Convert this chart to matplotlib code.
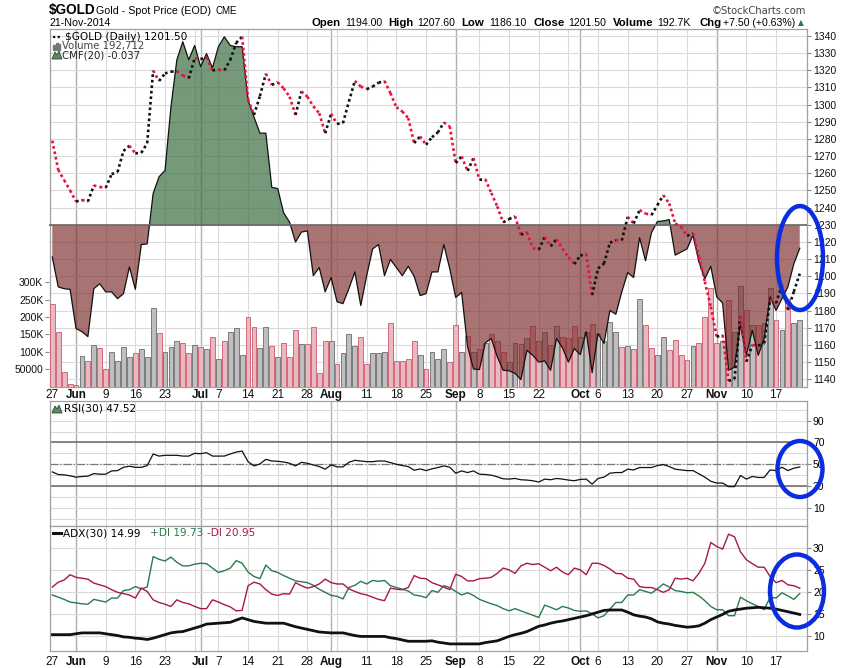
import matplotlib
matplotlib.use('Agg')
import matplotlib.pyplot as plt
from matplotlib.collections import LineCollection
from matplotlib.lines import Line2D
from matplotlib.patches import Ellipse, Polygon, Rectangle
import numpy as np
import pandas as pd

plt.rcParams['font.family'] = ['Liberation Sans', 'DejaVu Sans']

# trading days 27-May-2014 .. 21-Nov-2014 (market closed Jul 4 and Sep 1)
dates = pd.bdate_range('2014-05-27', '2014-11-21')
dates = dates[~dates.isin(pd.to_datetime(['2014-07-04', '2014-09-01']))]

close = [1279.0, 1262.0, 1256.0, 1250.0, 1243.5, 1244.4, 1243.5, 1252.9, 1252.0, 1251.5,
         1259.5, 1260.7, 1273.0, 1276.0, 1271.6, 1271.9, 1277.5, 1319.8, 1313.8, 1318.2,
         1319.2, 1319.5, 1317.0, 1315.3, 1327.0, 1326.5, 1327.5, 1320.0, 1320.3, 1320.0,
         1326.0, 1336.0, 1339.6, 1303.0, 1294.0, 1305.0, 1318.0, 1311.5, 1313.0, 1309.5,
         1304.6, 1294.0, 1307.7, 1304.6, 1299.0, 1295.0, 1283.3, 1294.6, 1288.8, 1289.2,
         1301.8, 1313.8, 1310.5, 1309.0, 1310.5, 1312.8, 1313.8, 1306.7, 1298.5, 1296.0,
         1292.2, 1277.6, 1281.5, 1276.6, 1281.0, 1283.8, 1289.6, 1287.3, 1266.0, 1269.8,
         1261.4, 1268.8, 1256.2, 1256.5, 1248.5, 1240.7, 1231.4, 1233.3, 1234.9, 1224.2,
         1225.5, 1216.4, 1215.4, 1222.8, 1217.4, 1221.6, 1216.0, 1211.0, 1207.0, 1212.0,
         1213.0, 1189.0, 1204.5, 1207.4, 1219.5, 1221.0, 1220.8, 1234.6, 1230.7, 1238.5,
         1236.5, 1235.6, 1241.4, 1247.2, 1242.4, 1230.7, 1228.8, 1223.5, 1224.9, 1211.3,
         1196.8, 1182.2, 1164.7, 1165.7, 1139.0, 1140.0, 1176.4, 1150.2, 1159.9, 1159.5,
         1160.9, 1186.2, 1184.2, 1194.9, 1180.3, 1191.0, 1201.5]

# volume in thousands
volume_k = [237, 158, 42, 7, 4, 87, 75, 120, 111, 52,
            101, 74, 115, 84, 98, 109, 86, 226, 154, 101,
            115, 130, 126, 97, 121, 115, 109, 144, 80, 130,
            158, 170, 90, 201, 172, 111, 172, 118, 84, 125,
            84, 163, 123, 123, 172, 39, 130, 132, 64, 97,
            150, 118, 144, 64, 97, 97, 101, 183, 75, 75,
            80, 132, 90, 51, 101, 80, 107, 72, 178, 101,
            145, 101, 109, 125, 151, 131, 100, 70, 125, 123,
            140, 173, 130, 157, 121, 175, 144, 140, 175, 142,
            158, 180, 151, 132, 185, 158, 115, 118, 108, 251,
            178, 111, 91, 144, 106, 134, 90, 77, 118, 126,
            201, 285, 125, 130, 249, 158, 290, 220, 178, 178,
            184, 285, 192, 164, 251, 182, 192.7]

cmf = [-0.051, -0.099, -0.102, -0.103, -0.166, -0.171, -0.179, -0.102, -0.094, -0.107,
       -0.107, -0.118, -0.110, -0.067, -0.103, -0.031, -0.030, 0.051, 0.078, 0.088,
       0.190, 0.266, 0.295, 0.266, 0.289, 0.255, 0.276, 0.253, 0.287, 0.303,
       0.289, 0.287, 0.287, 0.201, 0.174, 0.148, 0.148, 0.061, 0.059, 0.020,
       0.005, -0.027, -0.011, -0.009, -0.081, -0.068, -0.107, -0.084, -0.123, -0.126,
       -0.102, -0.075, -0.129, -0.081, -0.038, -0.031, -0.081, -0.055, -0.068, -0.081,
       -0.066, -0.082, -0.113, -0.110, -0.075, -0.075, -0.031, -0.070, -0.116, -0.108,
       -0.195, -0.231, -0.232, -0.189, -0.182, -0.211, -0.233, -0.234, -0.238, -0.248,
       -0.201, -0.209, -0.220, -0.218, -0.233, -0.182, -0.197, -0.220, -0.198, -0.208,
       -0.171, -0.237, -0.174, -0.190, -0.137, -0.143, -0.107, -0.076, -0.084, -0.020,
       -0.057, -0.012, 0.006, 0.007, 0.009, -0.048, -0.043, -0.038, -0.016, -0.059,
       -0.086, -0.066, -0.115, -0.125, -0.233, -0.228, -0.160, -0.209, -0.169, -0.209,
       -0.182, -0.115, -0.137, -0.118, -0.099, -0.062, -0.037]

rsi = [43.0, 40.6, 40.3, 39.4, 38.2, 38.8, 39.1, 41.5, 40.9, 40.9,
       43.9, 44.2, 47.2, 48.2, 47.2, 47.2, 48.8, 59.4, 57.5, 58.2,
       58.2, 58.2, 57.5, 57.5, 60.0, 59.7, 60.6, 57.5, 57.5, 57.5,
       59.4, 61.2, 62.1, 52.4, 48.5, 50.3, 54.5, 53.0, 52.7, 52.1,
       50.9, 48.5, 51.8, 50.9, 49.4, 47.9, 45.5, 49.4, 47.6, 47.6,
       51.8, 53.6, 53.0, 52.4, 52.4, 53.0, 53.0, 51.5, 50.0, 48.8,
       47.9, 44.5, 45.7, 44.2, 45.8, 47.0, 48.5, 47.3, 41.8, 43.9,
       42.4, 43.9, 40.9, 40.6, 40.0, 38.5, 36.7, 36.4, 37.0, 35.8,
       35.5, 34.9, 33.7, 36.4, 35.8, 37.0, 36.4, 35.5, 34.9, 36.1,
       36.4, 31.8, 37.0, 38.2, 41.8, 42.4, 42.4, 45.5, 44.8, 47.0,
       47.0, 47.0, 48.8, 49.7, 47.9, 45.5, 44.8, 44.2, 44.2, 41.2,
       38.2, 34.4, 32.8, 32.8, 29.5, 29.5, 39.7, 36.4, 38.8, 37.9,
       37.9, 44.8, 44.2, 47.3, 44.2, 46.4, 47.52]

adx = [10.4, 10.4, 10.4, 10.4, 10.6, 10.8, 10.8, 10.8, 10.8, 10.6,
       10.4, 10.2, 9.9, 9.8, 9.6, 9.5, 9.3, 9.6, 10.0, 10.4,
       10.8, 11.0, 11.1, 11.5, 11.9, 12.3, 12.8, 12.9, 13.0, 13.1,
       13.2, 13.7, 14.2, 13.8, 13.4, 13.2, 13.0, 13.0, 13.0, 13.0,
       12.6, 12.2, 11.9, 11.6, 11.3, 11.0, 10.9, 10.8, 10.8, 10.8,
       10.5, 10.2, 10.0, 10.0, 10.0, 10.0, 10.0, 9.7, 9.5, 9.2,
       8.9, 8.9, 8.9, 8.9, 9.0, 8.7, 8.5, 8.3, 8.3, 8.3,
       8.3, 8.3, 8.3, 8.6, 8.8, 9.0, 9.5, 10.0, 10.4, 10.7,
       11.1, 11.7, 12.3, 12.6, 13.0, 13.3, 13.5, 13.8, 14.1, 14.4,
       14.7, 15.1, 15.5, 15.9, 16.0, 16.0, 16.0, 15.5, 14.9, 14.6,
       14.4, 14.0, 13.3, 13.0, 12.8, 12.5, 12.3, 12.1, 12.2, 12.4,
       13.0, 13.8, 14.4, 15.0, 15.7, 16.0, 16.2, 16.4, 16.5, 16.6,
       16.5, 16.4, 16.2, 15.9, 15.6, 15.3, 14.99]

plus_di = [19.4, 18.9, 18.4, 17.8, 17.6, 17.4, 17.3, 18.4, 18.1, 17.8,
           18.7, 18.7, 20.4, 20.6, 21.3, 20.8, 21.2, 28.1, 27.5, 27.1,
           28.0, 26.8, 26.0, 26.0, 26.4, 26.6, 26.5, 25.5, 24.5, 24.9,
           25.5, 27.2, 26.6, 24.6, 23.6, 23.1, 26.2, 24.9, 24.5, 23.8,
           23.2, 22.6, 22.4, 22.2, 21.6, 20.7, 20.0, 19.3, 19.1, 18.5,
           21.1, 21.6, 22.5, 21.9, 22.7, 22.5, 22.7, 21.5, 21.1, 20.7,
           20.3, 19.4, 19.2, 18.8, 20.4, 20.0, 21.5, 21.1, 20.2, 19.4,
           19.9, 19.3, 18.4, 17.9, 17.4, 17.0, 16.3, 15.8, 16.3, 15.8,
           15.3, 14.8, 14.3, 17.1, 16.6, 16.05, 16.8, 16.45, 15.9, 15.7,
           15.8, 15.1, 14.2, 14.7, 16.2, 17.7, 17.7, 19.4, 19.4, 20.6,
           20.2, 19.8, 20.8, 21.9, 21.2, 20.4, 20.2, 19.9, 20.0, 19.2,
           18.1, 16.8, 16.05, 16.05, 14.7, 14.7, 18.9, 18.1, 17.4, 16.8,
           16.05, 18.9, 18.7, 19.9, 19.2, 18.4, 19.73]

minus_di = [21.2, 22.3, 22.8, 24.0, 23.4, 23.2, 23.0, 22.1, 21.7, 21.3,
            20.6, 20.0, 19.7, 19.4, 18.7, 20.95, 20.2, 18.3, 17.7, 17.3,
            16.8, 18.3, 17.7, 17.4, 16.8, 16.3, 16.3, 18.3, 17.8, 17.2,
            16.7, 15.8, 15.9, 21.5, 22.3, 21.9, 20.6, 19.6, 19.3, 19.7,
            19.6, 22.2, 21.5, 20.95, 21.3, 21.9, 23.0, 22.2, 21.9, 21.9,
            20.8, 20.2, 19.7, 19.4, 18.9, 18.4, 18.1, 20.95, 20.7, 20.6,
            21.1, 23.8, 23.2, 23.1, 22.2, 21.7, 21.2, 20.6, 24.1, 23.6,
            22.6, 22.6, 23.1, 23.2, 23.4, 24.3, 25.5, 25.1, 24.3, 26.0,
            26.6, 26.3, 26.5, 25.7, 24.9, 25.7, 24.6, 24.0, 25.5, 25.1,
            24.0, 26.6, 26.6, 26.1, 25.3, 24.3, 24.2, 23.2, 23.0, 21.3,
            21.1, 21.1, 20.6, 20.0, 20.6, 23.2, 23.0, 23.2, 22.6, 24.3,
            26.6, 31.3, 30.4, 29.8, 33.2, 32.6, 29.2, 27.4, 26.5, 25.7,
            25.7, 23.6, 22.2, 22.7, 21.7, 21.5, 20.95]

price_ticks = list(range(1140, 1341, 10))
vol_ticks = [50, 100, 150, 200, 250, 300]
vol_tick_labels = ['50000', '100K', '150K', '200K', '250K', '300K']
rsi_ticks = [10, 30, 50, 70, 90]
adx_ticks = [10, 15, 20, 25, 30]

n = len(dates)
x = np.arange(n)
close_a = np.array(close)
cmf_a = np.array(cmf)
up = np.diff(close_a, prepend=close_a[0] + 1) >= 0

# week / month boundaries for the date axis
wk = dates.isocalendar().week.values
week_starts = [0] + [i for i in range(1, n) if wk[i] != wk[i - 1]]
month_starts = [i for i in range(1, n) if dates[i].month != dates[i - 1].month]
tick_pos, tick_lab, tick_bold = [], [], []
for i in sorted(set(week_starts) | set(month_starts)):
    if i in month_starts:
        tick_pos.append(i); tick_lab.append(dates[i].strftime('%b')); tick_bold.append(True)
    elif not any(0 < m - i <= 3 or 0 < i - m <= 2 for m in month_starts):
        tick_pos.append(i); tick_lab.append(str(dates[i].day)); tick_bold.append(False)

W, H = 850, 668
def fx(px):
    return px / W
def fy(py):
    return 1 - py / H
def rect(left, top, right, bottom):
    return [fx(left), fy(bottom), (right - left) / W, (bottom - top) / H]

fig = plt.figure(figsize=(W / 100, H / 100), dpi=100)
XLIM = (-0.47, 127.17)
SPINE = '#a0a0a0'


def date_grid(a):
    for i in week_starts[1:]:
        a.axvline(i, color='#dadada', lw=0.8, zorder=0)
    for i in month_starts:
        a.axvline(i, color='#b0b0b0', lw=1.0, zorder=0)


def style_axes(a):
    for s in a.spines.values():
        s.set_color(SPINE)
        s.set_linewidth(0.9)
    a.set_xlim(*XLIM)


def date_labels(a, pad):
    a.set_xticks(tick_pos)
    a.set_xticklabels(tick_lab)
    for lbl, b in zip(a.get_xticklabels(), tick_bold):
        lbl.set_fontweight('bold' if b else 'normal')
    a.tick_params(axis='x', length=0, labelsize=8.5, pad=pad, colors='#111')


# ---------------- main panel: price, volume, CMF ----------------
ax = fig.add_axes(rect(49.5, 29.3, 806.7, 386.7))
ax_vol = ax.twinx()
ax_cmf = ax.twinx()
ax_px = ax.twinx()

style_axes(ax)
ax.set_ylim(1135.6, 1343.9)
ax.yaxis.tick_right()
ax.set_yticks(price_ticks)
ax.tick_params(axis='y', length=3, color='#888', labelsize=7.5, pad=1.5, colors='#111')
ax.tick_params(axis='y', color='#888')
ax.grid(axis='y', color='#dadada', lw=0.8)
ax.set_axisbelow(True)
date_grid(ax)
date_labels(ax, 1.5)

ax_vol.set_ylim(0, 1027)
ax_vol.yaxis.tick_left()
ax_vol.set_yticks(vol_ticks)
ax_vol.set_yticklabels(vol_tick_labels)
ax_vol.tick_params(axis='y', length=3, color='#888', labelsize=7.5, pad=1.5, colors='#111')
ax_vol.tick_params(axis='y', color='#888')
bar_face = np.where(up, '#bfbfbf', '#e9b8c0')
bar_edge = np.where(up, '#7a7a7a', '#d06a7a')
ax_vol.bar(x, volume_k, width=0.82, color=bar_face, edgecolor=bar_edge, linewidth=0.7)

ax_cmf.set_ylim(-0.2595, 0.315)
ax_cmf.set_yticks([])
ax_cmf.fill_between(x, cmf_a, 0, where=cmf_a >= 0, interpolate=True,
                    facecolor='#3c6e41', alpha=0.7, linewidth=0)
ax_cmf.fill_between(x, cmf_a, 0, where=cmf_a <= 0, interpolate=True,
                    facecolor='#782828', alpha=0.65, linewidth=0)
ax_cmf.plot(x, cmf_a, color='#111', lw=0.9)
ax_cmf.axhline(0, color='#666', lw=1.2)

ax_px.set_ylim(1135.6, 1343.9)
ax_px.set_yticks([])
segs = [[(x[i - 1], close_a[i - 1]), (x[i], close_a[i])] for i in range(1, n)]
seg_cols = ['#111111' if up[i] else '#e8103c' for i in range(1, n)]
ax_px.add_collection(LineCollection(segs, colors=seg_cols, linewidths=1.9,
                                    linestyles=[(0, (1, 1.1))]))
for a in (ax_vol, ax_cmf, ax_px):
    for s in a.spines.values():
        s.set_visible(False)
    a.set_xlim(*XLIM)

# ---------------- RSI panel ----------------
ax_rsi = fig.add_axes(rect(49.5, 401, 806.7, 526))
style_axes(ax_rsi)
ax_rsi.set_ylim(-6.6, 108)
ax_rsi.yaxis.tick_right()
ax_rsi.set_yticks(rsi_ticks)
ax_rsi.set_yticks(range(0, 101, 10), minor=True)
ax_rsi.grid(axis='y', which='both', color='#dadada', lw=0.8)
ax_rsi.tick_params(axis='y', which='major', length=3, color='#888', labelsize=7.5, pad=1.5)
ax_rsi.tick_params(axis='y', which='minor', length=0)
ax_rsi.set_axisbelow(True)
ax_rsi.set_xticks([])
date_grid(ax_rsi)
ax_rsi.axhline(70, color='#666', lw=1.1)
ax_rsi.axhline(30, color='#666', lw=1.1)
ax_rsi.axhline(50, color='#777', lw=0.9, ls='-.')
ax_rsi.plot(x, rsi, color='#111', lw=0.9)

# ---------------- ADX panel ----------------
ax_adx = fig.add_axes(rect(49.5, 526, 806.7, 650.7))
style_axes(ax_adx)
ax_adx.set_ylim(6.76, 35.05)
ax_adx.yaxis.tick_right()
ax_adx.set_yticks(adx_ticks)
ax_adx.grid(axis='y', color='#dadada', lw=0.8)
ax_adx.tick_params(axis='y', length=3, color='#888', labelsize=7.5, pad=1.5)
ax_adx.set_axisbelow(True)
date_grid(ax_adx)
date_labels(ax_adx, 4)
ax_adx.plot(x, plus_di, color='#2b7a4b', lw=1.0)
ax_adx.plot(x, minus_di, color='#a8174c', lw=1.0)
ax_adx.plot(x, adx, color='#111', lw=2.0)

# ---------------- header texts ----------------
fig.text(fx(49), fy(10), '$GOLD', fontsize=9.8, fontweight='bold', va='center')
fig.text(fx(96), fy(10.5), 'Gold - Spot Price (EOD)', fontsize=7.7, va='center')
fig.text(fx(215), fy(11), 'CME', fontsize=7, va='center')
fig.text(fx(49), fy(23), '21-Nov-2014', fontsize=7.7, va='center')
fig.text(fx(806), fy(11), '\u00a9StockCharts.com', fontsize=7.2, va='center', ha='right',
         color='#444', family=['DejaVu Sans'])
header = [(312, 'Open', True), (345, '1194.00', False), (388, 'High', True), (417, '1207.60', False),
          (461, 'Low', True), (489, '1186.10', False), (533, 'Close', True), (568, '1201.50', False),
          (613, 'Volume', True), (657, '192.7K', False), (699, 'Chg', True), (723, '+7.50 (+0.63%)', False)]
for px, txt, b in header:
    fig.text(fx(px), fy(23), txt, fontsize=8.2 if b else 7.6, fontweight='bold' if b else 'normal',
             va='center')
fig.text(fx(798), fy(23), '\u25b2', fontsize=5.5, va='center', color='#2b7a4b', family=['DejaVu Sans'])

# legends
LEG = ['DejaVu Sans']
fig.add_artist(Line2D([fx(53), fx(62)], [fy(36.5)] * 2, color='#111', lw=1.6, ls=(0, (1, 1.1))))
fig.text(fx(65), fy(36.5), '$GOLD (Daily) 1201.50', fontsize=7.6, va='center', family=LEG)
for bx, bh in [(53, 4), (55.5, 6), (58, 5)]:
    fig.add_artist(Rectangle((fx(bx), fy(49.5)), 2 / W, bh / H, color='#777'))
fig.text(fx(62), fy(46.3), 'Volume 192,712', fontsize=7.3, va='center', color='#444', family=LEG)
fig.add_artist(Polygon([(fx(52), fy(59)), (fx(55), fy(52)), (fx(57), fy(55)), (fx(59), fy(51)),
                        (fx(62), fy(59))], closed=True, fc='#5b8a5f', ec='#2b4a2e', lw=0.6))
fig.text(fx(62.5), fy(55.3), 'CMF(20) -0.037', fontsize=7.3, va='center', color='#222', family=LEG)

fig.add_artist(Polygon([(fx(52), fy(413)), (fx(55), fy(406)), (fx(57), fy(409)), (fx(59), fy(405)),
                        (fx(62), fy(413))], closed=True, fc='#5b8a5f', ec='#2b4a2e', lw=0.6))
fig.text(fx(64), fy(408.7), 'RSI(30) 47.52', fontsize=7.6, va='center', family=LEG)

fig.add_artist(Line2D([fx(52.5), fx(60.5)], [fy(533.3)] * 2, color='#111', lw=2.2))
fig.text(fx(63), fy(533.3), 'ADX(30) 14.99', fontsize=7.6, va='center', family=LEG)
fig.text(fx(150.5), fy(533.3), '+DI 19.73', fontsize=7.6, va='center', color='#2b7a4b', family=LEG)
fig.text(fx(207), fy(533.3), '-DI 20.95', fontsize=7.6, va='center', color='#a8174c', family=LEG)

# hand-drawn highlight ellipses
for cx, cy, w, h in [(800, 258, 46, 104), (800, 469, 45, 56), (797, 591, 54, 73)]:
    fig.add_artist(Ellipse((fx(cx), fy(cy)), w / W, h / H, fill=False, ec='#0a2de0', lw=3.2))

fig.savefig('out.png', dpi=100)
